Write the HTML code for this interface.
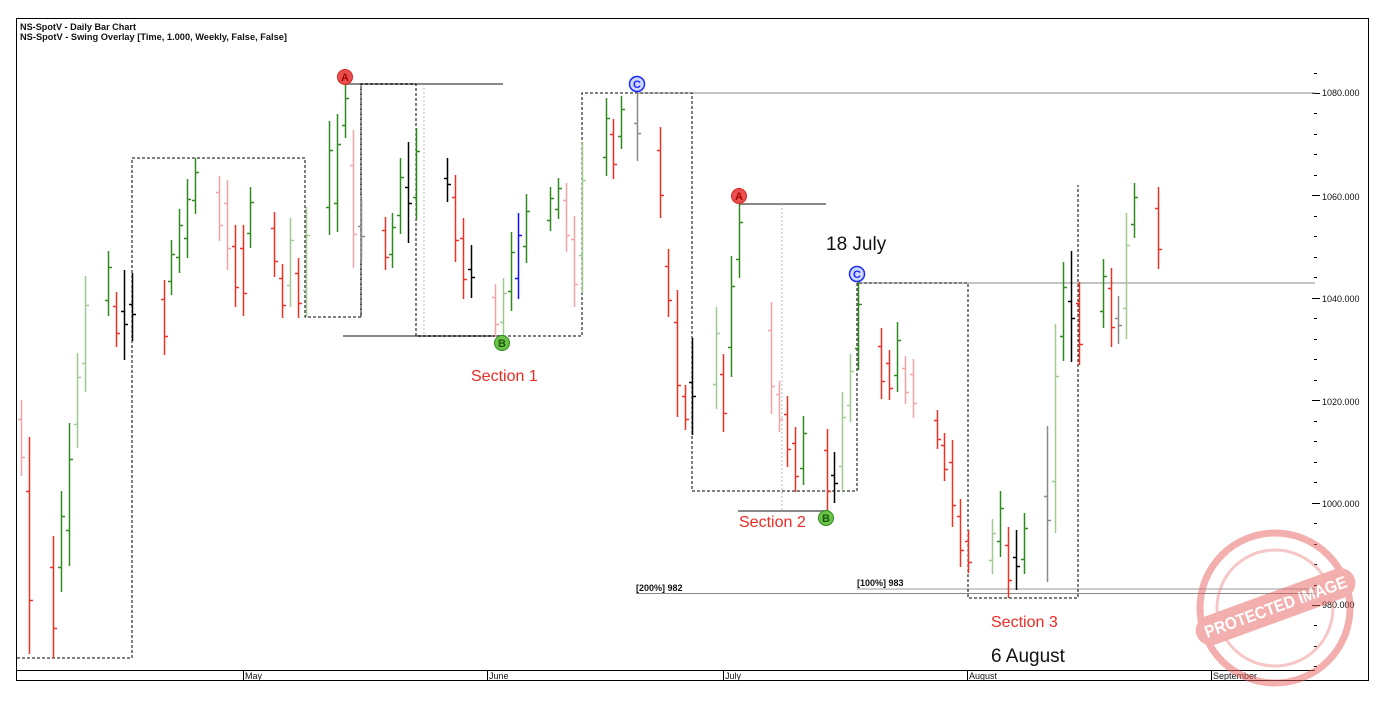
<!DOCTYPE html>
<html><head><meta charset="utf-8"><style>
html,body{margin:0;padding:0;background:#fff;}
svg{display:block;font-family:"Liberation Sans",sans-serif;}
</style></head><body>
<svg id="c" width="1394" height="702" viewBox="0 0 1394 702" xmlns="http://www.w3.org/2000/svg">
<rect x="0" y="0" width="1394" height="702" fill="#fff"/>
<rect x="16.5" y="18.5" width="1352" height="662" fill="none" stroke="#000" stroke-width="1"/>
<text x="20" y="30" font-size="9" font-weight="bold" fill="#111" textLength="116" lengthAdjust="spacingAndGlyphs">NS-SpotV - Daily Bar Chart</text>
<text x="20" y="40" font-size="9" font-weight="bold" fill="#111" textLength="267" lengthAdjust="spacingAndGlyphs">NS-SpotV - Swing Overlay [Time, 1.000, Weekly, False, False]</text>

<line x1="16" y1="670.5" x2="1315" y2="670.5" stroke="#000"/>
<g stroke="#000"><line x1="243.5" y1="670" x2="243.5" y2="681"/><line x1="487.5" y1="670" x2="487.5" y2="681"/><line x1="723.5" y1="670" x2="723.5" y2="681"/><line x1="967.5" y1="670" x2="967.5" y2="681"/><line x1="1211.5" y1="670" x2="1211.5" y2="681"/></g>
<g font-size="9" fill="#111"><text x="245" y="679">May</text><text x="489" y="679">June</text><text x="725" y="679">July</text><text x="969" y="679">August</text><text x="1213" y="679">September</text></g>

<g id="yax" stroke="#000"></g>
<g font-size="9" fill="#111">
<text x="1322" y="96">1080.000</text><text x="1322" y="200">1060.000</text><text x="1322" y="302">1040.000</text><text x="1322" y="405">1020.000</text><text x="1322" y="507">1000.000</text><text x="1322" y="608">980.000</text></g>

<g stroke="#888" stroke-width="2">
<line x1="345" y1="84" x2="503" y2="84"/>
<line x1="343" y1="336" x2="502" y2="336"/>
<line x1="739" y1="204" x2="826" y2="204"/>
<line x1="738" y1="511" x2="826" y2="511"/>
</g>
<g stroke="#888" stroke-width="1">
<line x1="637" y1="93" x2="1315" y2="93"/>
<line x1="857" y1="283" x2="1315" y2="283"/>
<line x1="636" y1="593.5" x2="1315" y2="593.5"/>
</g>
<line x1="857" y1="589" x2="1315" y2="589" stroke="#bbb" stroke-width="1.5"/>
<g stroke="#bbb" stroke-width="1" stroke-dasharray="2,2">
<line x1="424" y1="84" x2="424" y2="336"/>
<line x1="782" y1="204" x2="782" y2="511"/>
</g>
<line x1="361" y1="84" x2="361" y2="317" stroke="#999" stroke-width="2" stroke-dasharray="3,2"/>

<polyline fill="none" stroke="#000" stroke-width="1" stroke-dasharray="3,2" points="17,658 132,658 132,158 305,158 305,317 361,317 361,84 416,84 416,336 582,336 582,93 692,93 692,491 857,491 857,283 968,283 968,598 1078,598 1078,185"/>

<g id="bars"></g>

<g font-size="11" text-anchor="middle" font-weight="bold">
<circle cx="345" cy="77" r="7.5" fill="#e85050" stroke="#d22" stroke-width="1"/><text x="345" y="81" fill="#a00">A</text>
<circle cx="502" cy="343" r="7.5" fill="#6cc34a" stroke="#2a8a1a"/><text x="502" y="347" fill="#1a5a0a">B</text>
<circle cx="637" cy="84" r="7.5" fill="#cfd8ff" stroke="#1a2aff" stroke-width="1.5"/><text x="637" y="88" fill="#1a2aff">C</text>
<circle cx="739" cy="196" r="7.5" fill="#e85050" stroke="#d22"/><text x="739" y="200" fill="#a00">A</text>
<circle cx="826" cy="518" r="7.5" fill="#6cc34a" stroke="#2a8a1a"/><text x="826" y="522" fill="#1a5a0a">B</text>
<circle cx="857" cy="274" r="7.5" fill="#cfd8ff" stroke="#1a2aff" stroke-width="1.5"/><text x="857" y="278" fill="#1a2aff">C</text>
</g>

<g font-size="9" font-weight="bold" fill="#111">
<text x="636" y="591">[200%] 982</text>
<text x="857" y="586">[100%] 983</text>
</g>
<g font-size="16" fill="#ee2a22">
<text x="471" y="381">Section 1</text>
<text x="739" y="527">Section 2</text>
<text x="991" y="627">Section 3</text>
</g>
<g font-size="19" fill="#111">
<text x="826" y="250">18 July</text>
<text x="991" y="662">6 August</text>
</g>

<g opacity="0.5">
<circle cx="1275" cy="608" r="75" fill="none" stroke="#e86060" stroke-width="7"/>
<circle cx="1275" cy="608" r="58" fill="none" stroke="#f09090" stroke-width="3"/>
<g transform="rotate(-20 1275 608)">
<rect x="1192" y="592" width="168" height="30" rx="15" fill="#e86060"/>
<text x="1276" y="613" font-size="17" font-weight="bold" fill="#fff" text-anchor="middle" textLength="150" lengthAdjust="spacingAndGlyphs">PROTECTED IMAGE</text>
</g>
</g>
</svg>
<script>
const NS="http://www.w3.org/2000/svg";
const col={g:'#2f8a1f',lg:'#9fcb92',r:'#ee3124',p:'#f3a3a3',k:'#000',gy:'#8a8a8a',b:'#1010ff'};
const B=[[21,400,476,'p'],[29,437,654,'r'],[53,536,658,'r'],[61,491,592,'g'],[69,423,566,'g'],[77,353,448,'lg'],[85,276,392,'lg'],[108,251,316,'g'],[116,292,347,'r'],[124,270,360,'k'],[132,273,341,'k'],[164,280,355,'r'],[171,240,295,'g'],[179,209,273,'g'],[187,179,258,'g'],[195,158,214,'g'],[219,176,241,'p'],[227,180,270,'p'],[235,225,307,'r'],[243,225,316,'r'],[250,187,248,'g'],[274,212,277,'r'],[282,264,318,'r'],[290,218,307,'lg'],[298,258,318,'r'],[306,207,317,'lg'],[329,121,235,'g'],[337,114,232,'g'],[345,84,138,'g'],[353,130,268,'p'],[361,197,262,'gy'],[385,217,270,'r'],[392,213,268,'g'],[400,158,234,'g'],[408,142,243,'k'],[416,128,220,'g'],[447,158,202,'k'],[455,175,262,'r'],[463,218,299,'r'],[471,245,298,'k'],[495,284,337,'p'],[503,278,337,'lg'],[511,232,311,'g'],[518,213,299,'b'],[526,194,263,'g'],[550,187,231,'g'],[558,178,219,'g'],[566,183,252,'p'],[574,216,307,'p'],[582,142,293,'lg'],[606,98,176,'g'],[613,119,179,'r'],[621,96,149,'g'],[637,92,161,'gy'],[660,127,218,'r'],[668,249,317,'r'],[677,290,417,'r'],[685,385,430,'r'],[692,338,435,'k'],[716,307,409,'lg'],[723,354,432,'r'],[731,256,377,'g'],[739,203,278,'g'],[771,302,414,'p'],[779,381,432,'p'],[787,396,467,'r'],[795,427,492,'r'],[803,416,485,'g'],[827,429,512,'r'],[834,452,503,'k'],[842,392,491,'lg'],[850,354,422,'lg'],[858,282,370,'g'],[881,328,399,'r'],[889,350,400,'r'],[897,322,392,'g'],[905,356,404,'p'],[913,359,418,'p'],[937,410,449,'r'],[944,433,481,'r'],[952,440,527,'r'],[960,499,567,'r'],[968,530,573,'r'],[992,519,574,'lg'],[1000,491,557,'g'],[1008,527,598,'r'],[1016,530,590,'k'],[1024,513,574,'g'],[1047,426,582,'gy'],[1055,324,533,'lg'],[1063,262,361,'g'],[1071,251,362,'k'],[1079,282,365,'r'],[1103,259,328,'g'],[1111,268,347,'r'],[1118,296,344,'gy'],[1126,213,339,'lg'],[1134,183,238,'g'],[1158,187,269,'r']];
const g=document.getElementById('bars');
let d={};
for(const [x,t,b,c] of B){
  const h=b-t; let o,cl;
  if(c==='g'||c==='lg'||c==='b'){o=t+0.75*h;cl=t+0.25*h;}
  else if(c==='r'||c==='p'){o=t+0.25*h;cl=t+0.75*h;}
  else {o=t+0.45*h;cl=t+0.6*h;}
  const X=x+0.5;
  d[c]=(d[c]||'')+`M${X} ${t}V${b}M${x-3} ${Math.round(o)+0.5}H${X}M${X} ${Math.round(cl)+0.5}H${x+4}`;
}
for(const c in d){const p=document.createElementNS(NS,'path');p.setAttribute('d',d[c]);p.setAttribute('stroke',col[c]);p.setAttribute('stroke-width','1.5');p.setAttribute('fill','none');g.appendChild(p);}
const ya=document.getElementById('yax');
let s='';
for(let v=968;v<=1084;v+=4){const y=93+(1080-v)*5.12;if(y>668||y<25)continue;const yy=Math.round(y)+0.5;const major=(v%20===0);s+=`M${major?1312:1314} ${yy}H${major?1320:1317}`;}
const p=document.createElementNS(NS,'path');p.setAttribute('d',s);p.setAttribute('stroke','#000');ya.appendChild(p);
</script>
</body></html>
